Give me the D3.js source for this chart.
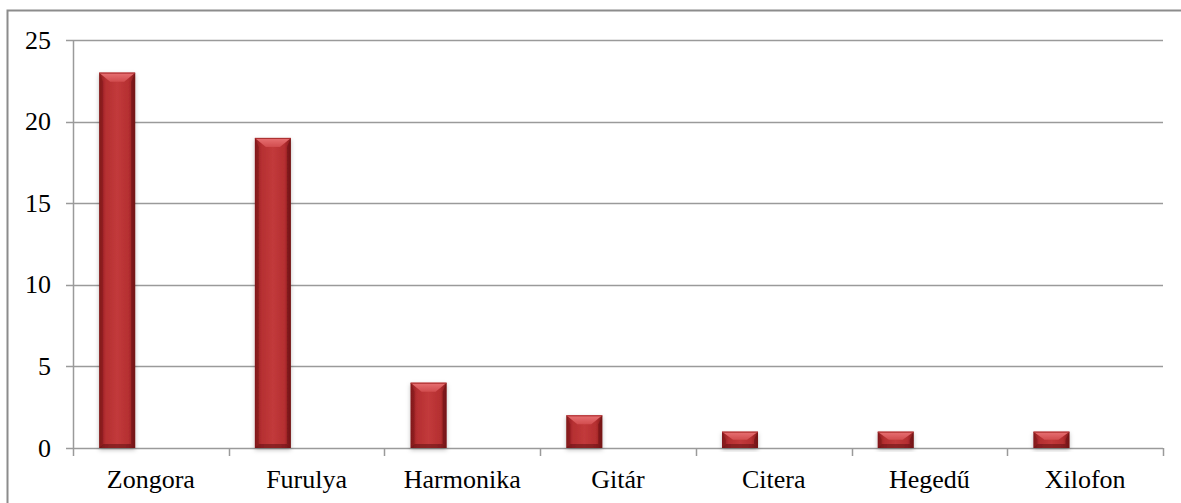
<!DOCTYPE html>
<html>
<head>
<meta charset="utf-8">
<script src="https://cdn.jsdelivr.net/npm/d3@7"></script>
<style>
  html, body { margin: 0; padding: 0; background: #fff; }
  text { font-family: "Liberation Serif", "Times New Roman", serif; fill: #000; }
</style>
</head>
<body>
<div id="chart"></div>
<script>
// data
const categories = ['Zongora', 'Furulya', 'Harmonika', 'Gitár', 'Citera', 'Hegedű', 'Xilofon'];
const values = [23, 19, 4, 2, 1, 1, 1];
const yTicks = [0, 5, 10, 15, 20, 25];

const W = 1181, H = 503;
const plot = { left: 73, right: 1163, top: 40, bottom: 448 };

const svg = d3.select('#chart').append('svg')
    .attr('width', W)
    .attr('height', H);

const defs = svg.append('defs');

// bar body gradient (darker edges)
const g1 = defs.append('linearGradient').attr('id', 'barGrad').attr('x1', 0).attr('x2', 1).attr('y1', 0).attr('y2', 0);
[[0, '#8c1c1e'], [0.18, '#b52f31'], [0.5, '#c23a3b'], [0.82, '#b52f31'], [1, '#861a1c']]
    .forEach(s => g1.append('stop').attr('offset', s[0]).attr('stop-color', s[1]));

// top bevel gradient
const g2 = defs.append('linearGradient').attr('id', 'topGrad').attr('x1', 0).attr('x2', 0).attr('y1', 0).attr('y2', 1);
[[0, '#e87274'], [1, '#d14c4e']]
    .forEach(s => g2.append('stop').attr('offset', s[0]).attr('stop-color', s[1]));

const shadow = defs.append('filter').attr('id', 'shadow')
    .attr('x', '-30%').attr('y', '-10%').attr('width', '160%').attr('height', '130%');
shadow.append('feDropShadow')
    .attr('dx', 0).attr('dy', 2).attr('stdDeviation', 2)
    .attr('flood-color', '#000').attr('flood-opacity', 0.25);

// outer border
svg.append('rect')
    .attr('x', 7.5).attr('y', 10.5)
    .attr('width', 1200).attr('height', 600)
    .attr('fill', 'none')
    .attr('stroke', '#8c8c8c')
    .attr('stroke-width', 2);

const x = d3.scaleBand()
    .domain(categories)
    .range([plot.left, plot.right])
    .paddingInner(0).paddingOuter(0);

const y = d3.scaleLinear()
    .domain([0, 25])
    .range([plot.bottom, plot.top]);

// gridlines
svg.append('g').selectAll('line')
    .data(yTicks)
    .join('line')
    .attr('x1', plot.left - 7).attr('x2', plot.right)
    .attr('y1', d => Math.round(y(d)) + 0.5).attr('y2', d => Math.round(y(d)) + 0.5)
    .attr('stroke', '#9a9a9a')
    .attr('stroke-width', 1.5);

// y labels
svg.append('g').selectAll('text')
    .data(yTicks)
    .join('text')
    .attr('x', 51)
    .attr('y', d => y(d))
    .attr('dy', '0.33em')
    .attr('text-anchor', 'end')
    .style('font-size', '26px')
    .text(d => d);

// y axis line
svg.append('line')
    .attr('x1', plot.left + 0.5).attr('x2', plot.left + 0.5)
    .attr('y1', plot.top).attr('y2', plot.bottom)
    .attr('stroke', '#9a9a9a').attr('stroke-width', 1.5);

// x tick marks at band edges
const edges = categories.map(c => x(c)).concat([plot.right]);
svg.append('g').selectAll('line')
    .data(edges)
    .join('line')
    .attr('x1', d => Math.round(d) + 0.5).attr('x2', d => Math.round(d) + 0.5)
    .attr('y1', plot.bottom).attr('y2', plot.bottom + 8)
    .attr('stroke', '#9a9a9a').attr('stroke-width', 1.5);

// bars
const barOffset = x.bandwidth() * 0.168;
const barW = 36;
const bars = svg.append('g').selectAll('g')
    .data(categories.map((c, i) => ({ c, v: values[i] })))
    .join('g')
    .attr('filter', 'url(#shadow)');

bars.each(function(d) {
    const g = d3.select(this);
    const x0 = x(d.c) + barOffset;
    const y0 = y(d.v);
    const h = y(0) - y0;
    const b = Math.min(9, h / 2);
    g.append('rect')
        .attr('x', x0).attr('y', y0)
        .attr('width', barW).attr('height', h)
        .attr('fill', 'url(#barGrad)');
    // left bevel
    g.append('polygon')
        .attr('points', [[x0, y0], [x0 + 4, y0 + b], [x0 + 4, y0 + h - 4], [x0, y0 + h]].join(' '))
        .attr('fill', '#6e1214').attr('opacity', 0.35);
    // right bevel
    g.append('polygon')
        .attr('points', [[x0 + barW, y0], [x0 + barW - 4, y0 + b], [x0 + barW - 4, y0 + h - 4], [x0 + barW, y0 + h]].join(' '))
        .attr('fill', '#5a0e10').attr('opacity', 0.45);
    // bottom bevel
    g.append('polygon')
        .attr('points', [[x0, y0 + h], [x0 + 4, y0 + h - 4], [x0 + barW - 4, y0 + h - 4], [x0 + barW, y0 + h]].join(' '))
        .attr('fill', '#5a0e10').attr('opacity', 0.5);
    // top bevel
    g.append('polygon')
        .attr('points', [[x0, y0], [x0 + barW, y0], [x0 + barW - 11, y0 + b], [x0 + 11, y0 + b]].join(' '))
        .attr('fill', 'url(#topGrad)');
    g.append('line')
        .attr('x1', x0).attr('x2', x0 + barW)
        .attr('y1', y0 + 0.5).attr('y2', y0 + 0.5)
        .attr('stroke', '#a82a2c').attr('stroke-width', 1);
});

// x labels
svg.append('g').selectAll('text')
    .data(categories)
    .join('text')
    .attr('x', d => x(d) + x.bandwidth() / 2)
    .attr('y', 488)
    .attr('text-anchor', 'middle')
    .style('font-size', '26px')
    .text(d => d);
</script>
</body>
</html>
